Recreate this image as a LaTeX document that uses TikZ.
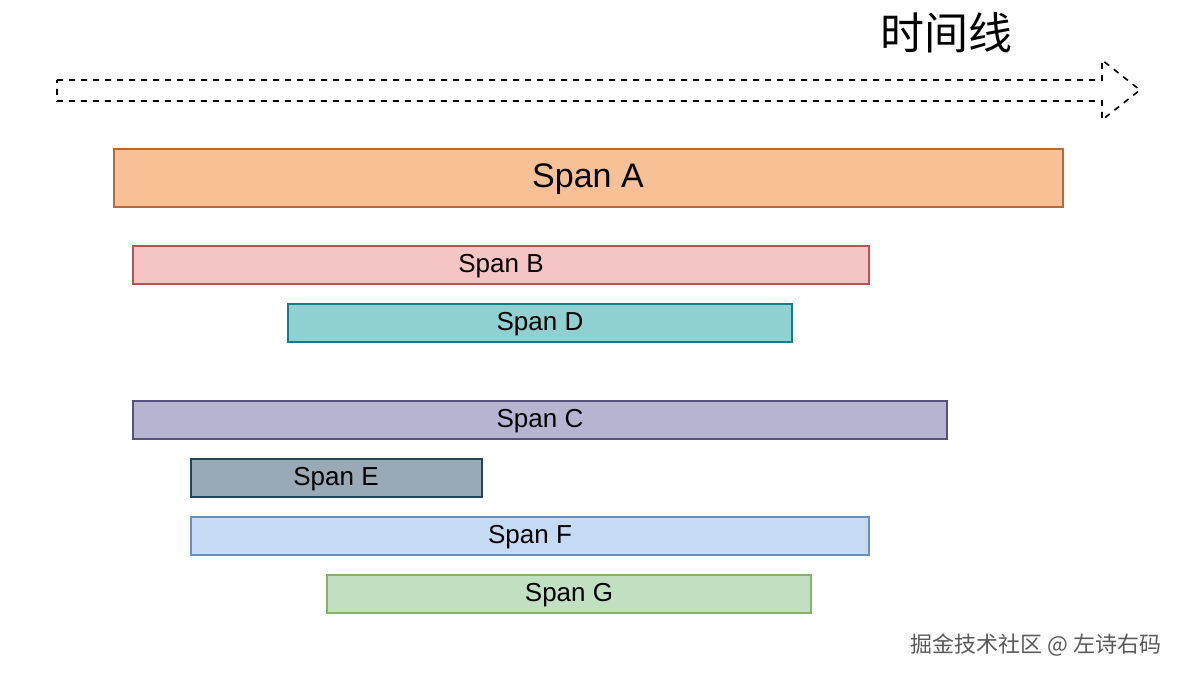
\documentclass[tikz,border=0pt]{standalone}
\usepackage{fontspec}
\setmainfont{Liberation Sans}
\newfontfamily\cjk{Noto Sans CJK SC}
\usetikzlibrary{positioning}
\definecolor{fillA}{HTML}{F8C195}\definecolor{lineA}{HTML}{B46A3C}
\definecolor{fillB}{HTML}{F5C4C4}\definecolor{lineB}{HTML}{B85450}
\definecolor{fillD}{HTML}{8FD0D0}\definecolor{lineD}{HTML}{0E8088}
\definecolor{fillC}{HTML}{B7B4D2}\definecolor{lineC}{HTML}{56517E}
\definecolor{fillE}{HTML}{9AA9B6}\definecolor{lineE}{HTML}{23445D}
\definecolor{fillF}{HTML}{C5DAF3}\definecolor{lineF}{HTML}{6C8EBF}
\definecolor{fillG}{HTML}{C1DFC1}\definecolor{lineG}{HTML}{82B366}
\tikzset{
  spanbar/.style={draw=line#1,fill=fill#1,line width=0.7pt},
}
\begin{document}
\begin{tikzpicture}[x=0.5pt,y=-0.5pt]
    \useasboundingbox (0,0) rectangle (1200,679);
    % time line
    \draw[dashed,line width=0.8pt] (57,80) -- (1102,80) -- (1102,60) -- (1140,90)
      -- (1102,120) -- (1102,101) -- (57,101) -- cycle;
    \node[font=\cjk\fontsize{22}{24}\selectfont] (title) at (946,33) {时间线};
    % spans
    \draw[spanbar=A] (114,149) rectangle (1063,207);
    \node[font=\fontsize{17}{20}\selectfont] (A) at (588,179) {Span A};
    \draw[spanbar=B] (133,246) rectangle (869,284);
    \node[font=\fontsize{13}{15}\selectfont] (B) at (501,266) {Span B};
    \draw[spanbar=D] (288,304) rectangle (792,342);
    \node[font=\fontsize{13}{15}\selectfont] (D) at (540,324) {Span D};
    \draw[spanbar=C] (133,401) rectangle (947,439);
    \node[font=\fontsize{13}{15}\selectfont] (C) at (540,421) {Span C};
    \draw[spanbar=E] (191,459) rectangle (482,497);
    \node[font=\fontsize{13}{15}\selectfont] (E) at (336,479) {Span E};
    \draw[spanbar=F] (191,517) rectangle (869,555);
    \node[font=\fontsize{13}{15}\selectfont] (F) at (530,537) {Span F};
    \draw[spanbar=G] (327,575) rectangle (811,613);
    \node[font=\fontsize{13}{15}\selectfont] (G) at (569,595) {Span G};
    % watermark
    \node[font=\cjk\fontsize{11}{13}\selectfont,text=black!65] (mark) at (1036,645) {掘金技术社区 @ 左诗右码};
\end{tikzpicture}
\end{document}
